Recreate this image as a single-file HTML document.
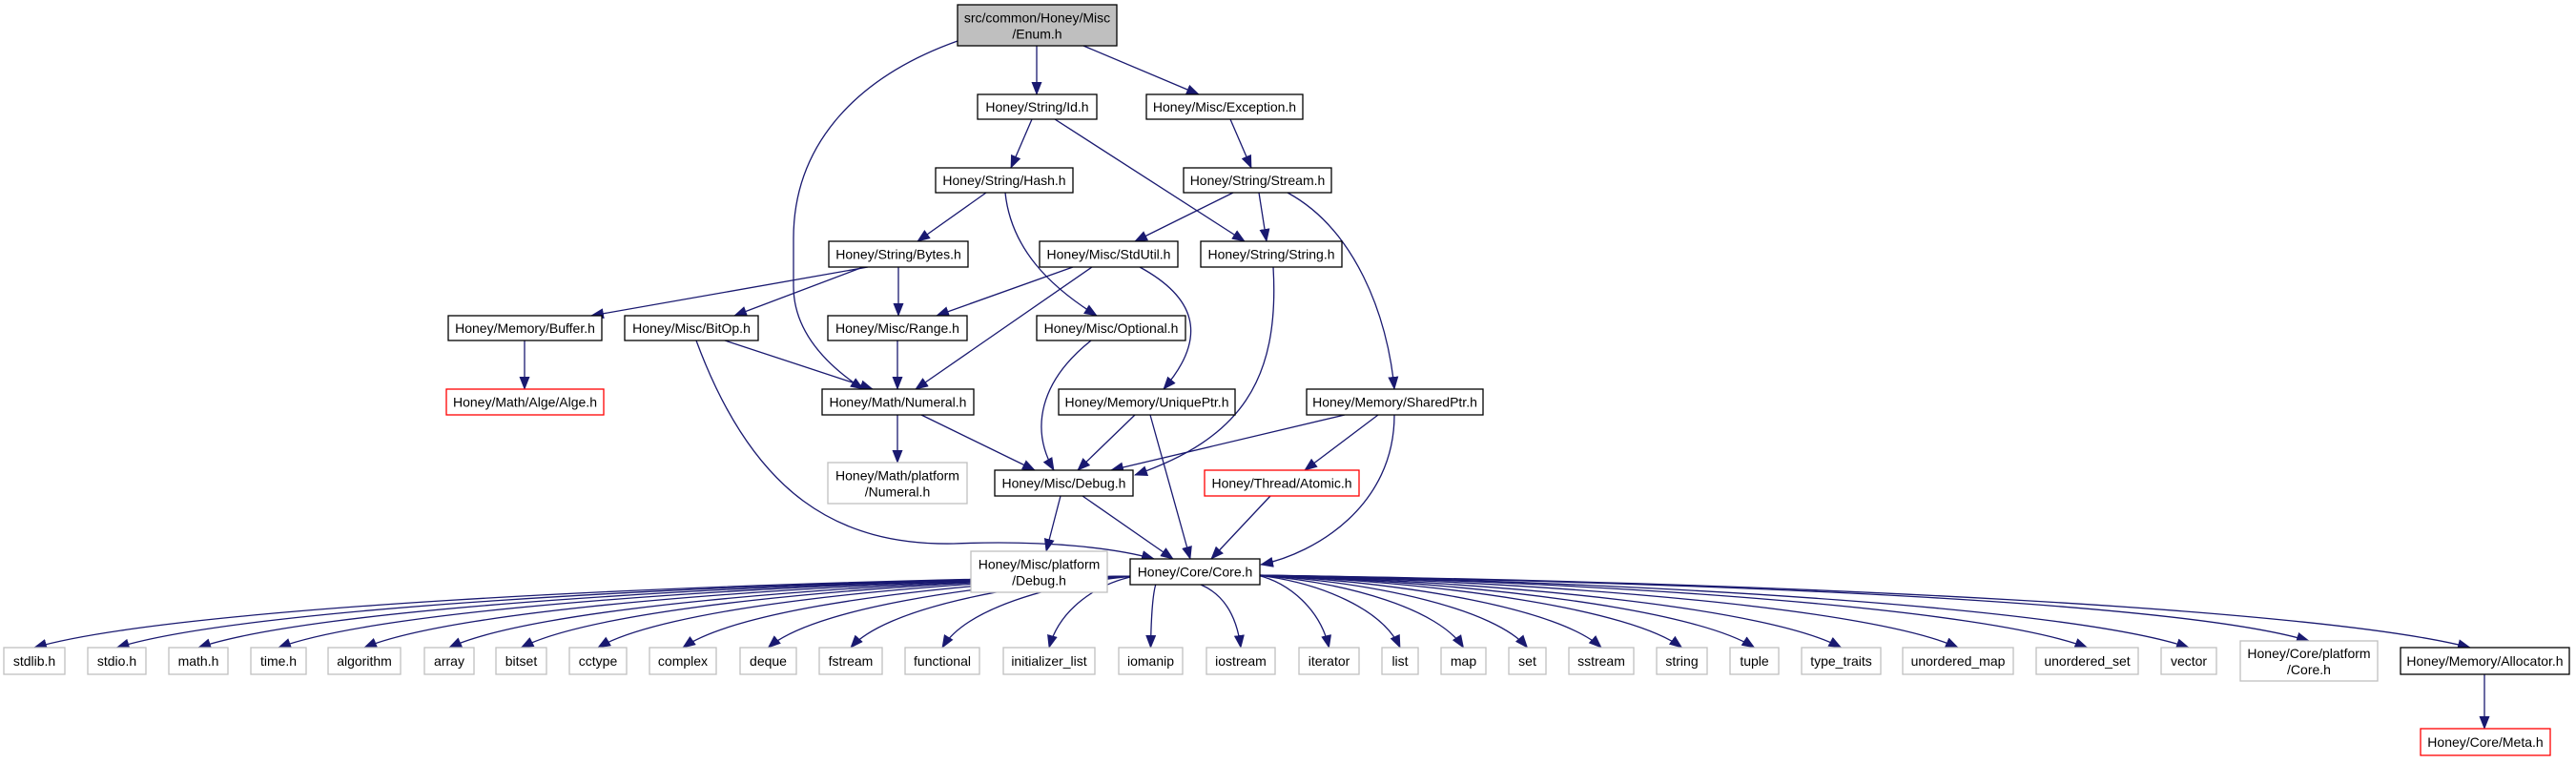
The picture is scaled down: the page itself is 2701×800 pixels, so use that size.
<!DOCTYPE html>
<html><head><meta charset="utf-8"><style>
html,body{margin:0;padding:0;background:#fff;}
svg{display:block;}
text{font-family:"Liberation Sans",Arial,sans-serif;font-size:14px;fill:#000;}
</style></head><body>
<svg id="g" xmlns="http://www.w3.org/2000/svg" width="2701" height="800" viewBox="0 0 2701 800">
<defs><marker id="a" markerUnits="userSpaceOnUse" markerWidth="14" markerHeight="11" refX="13" refY="5.5" orient="auto"><path d="M0,0 L14,5.5 L0,11 Z" fill="#191970"/></marker></defs>
<g id="edges" fill="none" stroke="#191970" stroke-width="1.3"></g>
<g id="nodes"></g>
</svg>
<script>
var N=[
["src/common/Honey/Misc|/Enum.h",1004,5,1171,48,"b","#bfbfbf"],
["Honey/String/Id.h",1025,99,1150,125,"b"],
["Honey/Misc/Exception.h",1202,99,1366,125,"b"],
["Honey/String/Hash.h",981,176,1125,202,"b"],
["Honey/String/Stream.h",1241,176,1396,202,"b"],
["Honey/String/Bytes.h",869,253,1015,280,"b"],
["Honey/Misc/StdUtil.h",1090,253,1235,280,"b"],
["Honey/String/String.h",1259,253,1407,280,"b"],
["Honey/Memory/Buffer.h",470,331,631,357,"b"],
["Honey/Misc/BitOp.h",655,331,795,357,"b"],
["Honey/Misc/Range.h",868,331,1014,357,"b"],
["Honey/Misc/Optional.h",1087,331,1243,357,"b"],
["Honey/Math/Alge/Alge.h",468,408,633,435,"r"],
["Honey/Math/Numeral.h",862,408,1021,435,"b"],
["Honey/Memory/UniquePtr.h",1110,408,1295,435,"b"],
["Honey/Memory/SharedPtr.h",1370,408,1555,435,"b"],
["Honey/Math/platform|/Numeral.h",868,485,1014,528,"g"],
["Honey/Misc/Debug.h",1043,493,1188,520,"b"],
["Honey/Thread/Atomic.h",1263,493,1425,520,"r"],
["Honey/Misc/platform|/Debug.h",1018,578,1161,621,"g"],
["Honey/Core/Core.h",1185,586,1321,613,"b"],
["Honey/Core/platform|/Core.h",2349,672,2493,714,"g"],
["Honey/Memory/Allocator.h",2517,679,2694,707,"b"],
["Honey/Core/Meta.h",2538,764,2674,792,"r"]];
var B=[["stdlib.h",4,68],["stdio.h",92,153],["math.h",177,239],["time.h",263,321],["algorithm",344,420],["array",445,497],["bitset",520,573],["cctype",597,657],["complex",681,751],["deque",776,835],["fstream",859,925],["functional",949,1027],["initializer_list",1052,1148],["iomanip",1173,1240],["iostream",1265,1337],["iterator",1362,1425],["list",1449,1487],["map",1511,1558],["set",1582,1621],["sstream",1645,1713],["string",1737,1790],["tuple",1814,1865],["type_traits",1889,1972],["unordered_map",1995,2111],["unordered_set",2135,2242],["vector",2266,2324]];
B.forEach(function(b){N.push([b[0],b[1],679,b[2],707,"g"]);});
var E=[
"M1087,48 L1087,99","M1136,48 L1257,99",
"M1004,43 C900,80 832,150 832,250 L832,300 C832,350 870,385 905,408",
"M1082,125 L1060,176","M1106,125 L1305,253","M1290,125 L1312,176",
"M1034,202 L962,253","M1054,202 C1060,260 1100,300 1150,331",
"M1293,202 L1190,253","M1320,202 L1328,253",
"M1350,202 C1420,240 1455,330 1462,408",
"M910,280 L620,331","M905,280 L770,331","M942,280 L942,331",
"M1125,280 L982,331","M1145,280 L960,408",
"M1195,280 C1250,310 1270,350 1220,408",
"M1144,357 C1090,400 1080,450 1105,493",
"M941,357 L941,408","M760,357 L915,408",
"M730,357 C790,520 880,572 1000,570 C1100,566 1170,575 1210,586",
"M550,357 L550,408","M941,435 L941,485","M966,435 L1085,493",
"M1190,435 L1130,493","M1206,435 L1248,586",
"M1335,280 C1342,400 1300,460 1190,498",
"M1410,435 L1165,493","M1445,435 L1368,493",
"M1462,435 C1462,530 1380,580 1322,592",
"M1332,520 L1270,586","M1112,520 L1097,578","M1135,520 L1230,586",
"M2605,707 L2605,764"];
var tg=[];B.forEach(function(b){tg.push((b[1]+b[2])/2);});tg.push(2421);tg.push(2590);
tg.forEach(function(ex,i){
 var ey=(ex==2421)?672:679, sx, sy;
 if(ex<1185){sx=1190;sy=604;} else if(ex>1321){sx=1318;sy=603;} else {sx=1195+(ex-1173)*0.5;sy=613;}
 var d=ex-sx;
 E.push("M"+sx+","+sy+" C"+(sx+d*0.45)+","+(sy+8)+" "+(ex-d*0.12)+","+(ey-40)+" "+ex+","+ey);
});
var eg=document.getElementById("edges"),ng=document.getElementById("nodes"),s="";
E.forEach(function(d){s+='<path d="'+d+'" marker-end="url(#a)"/>';});eg.innerHTML=s;s="";
N.forEach(function(n){
 var st=n[5]=="r"?"#ff0000":(n[5]=="g"?"#bfbfbf":"#000");
 s+='<rect x="'+n[1]+'" y="'+n[2]+'" width="'+(n[3]-n[1])+'" height="'+(n[4]-n[2])+'" fill="'+(n[6]||"#fff")+'" stroke="'+st+'" stroke-width="1.3"/>';
 var cx=(n[1]+n[3])/2,L=n[0].split("|");
 if(L.length==1)s+='<text x="'+cx+'" y="'+((n[2]+n[4])/2+5)+'" text-anchor="middle">'+L[0]+'</text>';
 else{var cy=(n[2]+n[4])/2;s+='<text x="'+cx+'" y="'+(cy-3)+'" text-anchor="middle">'+L[0]+'</text><text x="'+cx+'" y="'+(cy+14)+'" text-anchor="middle">'+L[1]+'</text>';}
});
ng.innerHTML=s;
</script>
</body></html>
